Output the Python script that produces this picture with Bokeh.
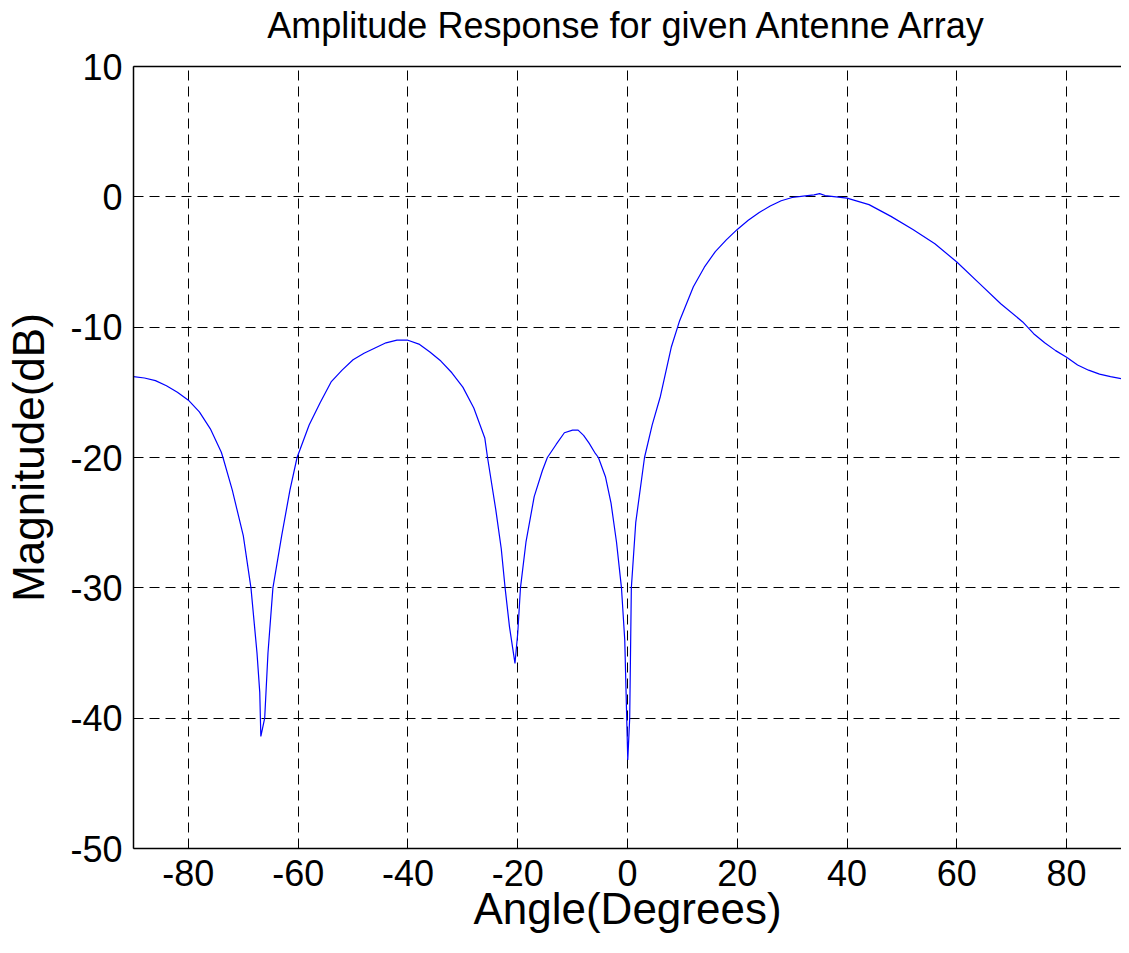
from bokeh.plotting import figure
from bokeh.models import Range1d, FixedTicker, ColumnDataSource, LinearAxis
from bokeh.embed import file_html
from bokeh.resources import INLINE

# ---- data ----
angle_deg = [
    -90, -88, -86, -84, -82, -80, -78, -76, -74, -73.7, -72, -70, -68.6, -67.5, -67.0, -66.8,
    -66.1, -65.5, -64.6, -63, -61.5, -60.2, -58, -56, -54, -52, -50, -48, -46, -44, -42, -40,
    -38, -36, -34, -32, -30, -28, -26, -25.5, -24, -23, -22.3, -21.5, -20.5, -20, -19.5, -18.5,
    -17, -15.5, -14.6, -13, -11.5, -10, -9, -8, -7, -6, -5.3, -4, -3, -2, -1.1, -0.5, 0.05,
    0.4, 0.7, 1.5, 3.1, 4.5, 6, 8, 9.5, 12, 14, 16, 18, 20, 22, 24, 26, 28, 30, 32, 34, 35, 36,
    38, 40, 44, 48, 52, 56, 60, 64, 68, 72, 74, 76, 78, 80, 82, 84, 86, 88, 90,
]
magnitude_db = [
    -13.8, -13.9, -14.1, -14.5, -15.0, -15.6, -16.5, -17.8, -19.6, -20.0, -22.5, -26.0, -30.0, -35.0, -38.0, -41.4,
    -40.0, -35.0, -30.0, -26.0, -22.5, -20.0, -17.5, -15.8, -14.2, -13.3, -12.5, -12.0, -11.6, -11.2, -11.0, -11.0,
    -11.3, -11.9, -12.6, -13.5, -14.6, -16.2, -18.5, -20.0, -24.0, -27.0, -30.0, -33.0, -35.8, -33.5, -30.0, -26.5,
    -23.0, -21.0, -20.0, -19.0, -18.1, -17.9, -17.9, -18.3, -18.9, -19.6, -20.0, -21.5, -23.5, -26.5, -30.0, -34.0, -43.2,
    -40.0, -30.0, -25.0, -20.0, -17.5, -15.3, -11.5, -9.5, -6.9, -5.4, -4.2, -3.3, -2.5, -1.8, -1.2, -0.7, -0.3, -0.05, 0.05, 0.15, 0.25, 0.1,
    0.0, -0.1, -0.6, -1.5, -2.5, -3.6, -5.0, -6.6, -8.2, -9.6, -10.5, -11.2, -11.8, -12.3, -12.9, -13.3, -13.6, -13.8, -13.95,
]
x_ticks = [-80, -60, -40, -20, 0, 20, 40, 60, 80]
y_ticks = [-50, -40, -30, -20, -10, 0, 10]

title_text = "Amplitude Response for given Antenne Array"
x_label = "Angle(Degrees)"
y_label = "Magnitude(dB)"

FONT = "Liberation Sans"

p = figure(
    width=1121, height=945,
    x_range=Range1d(-90, 90), y_range=Range1d(-50, 10),
    output_backend="svg", toolbar_location=None,
    min_border_left=133, min_border_right=0, min_border_top=66, min_border_bottom=97,
)

p.outline_line_color = None
p.background_fill_color = "white"
p.border_fill_color = "white"

bottom_axis = p.below[0]
left_axis = p.left[0]

for ax in (bottom_axis, left_axis):
    ax.axis_line_color = "black"
    ax.axis_line_width = 1.5
    ax.major_tick_in = 8
    ax.major_tick_out = 0
    ax.major_tick_line_color = "black"
    ax.minor_tick_line_color = None
    ax.major_label_text_font = FONT
    ax.major_label_text_font_size = "36px"
    ax.major_label_text_color = "black"
    ax.axis_label_text_font = FONT
    ax.axis_label_text_font_size = "44px"
    ax.axis_label_text_font_style = "normal"
    ax.axis_label_text_color = "black"

bottom_axis.ticker = FixedTicker(ticks=x_ticks)
left_axis.ticker = FixedTicker(ticks=y_ticks)
bottom_axis.major_label_overrides = {t: str(t) for t in x_ticks}
left_axis.major_label_overrides = {t: str(t) for t in y_ticks}
bottom_axis.axis_label = x_label
left_axis.axis_label = y_label
bottom_axis.major_label_standoff = 11
left_axis.major_label_standoff = 11
bottom_axis.axis_label_standoff = -5
left_axis.axis_label_standoff = 14

# top frame edge, carrying the chart title as its label
top_axis = LinearAxis(ticker=FixedTicker(ticks=[]))
top_axis.axis_line_color = "black"
top_axis.axis_line_width = 1.5
top_axis.major_tick_in = 0
top_axis.major_tick_out = 0
top_axis.minor_tick_line_color = None
top_axis.major_label_standoff = 0
top_axis.axis_label = title_text
top_axis.axis_label_text_font = FONT
top_axis.axis_label_text_font_size = "36px"
top_axis.axis_label_text_font_style = "normal"
top_axis.axis_label_text_color = "black"
top_axis.axis_label_standoff = 21
p.add_layout(top_axis, "above")

for g in (p.xgrid[0], p.ygrid[0]):
    g.grid_line_color = "black"
    g.grid_line_dash = "10 6"
    g.grid_line_width = 1
    g.grid_line_alpha = 1.0
p.xgrid[0].ticker = FixedTicker(ticks=x_ticks)
p.ygrid[0].ticker = FixedTicker(ticks=y_ticks)

src = ColumnDataSource(data=dict(x=angle_deg, y=magnitude_db))
p.line("x", "y", source=src, line_color="#0000ff", line_width=1.2)

open("out.html", "w").write(file_html(p, INLINE))
